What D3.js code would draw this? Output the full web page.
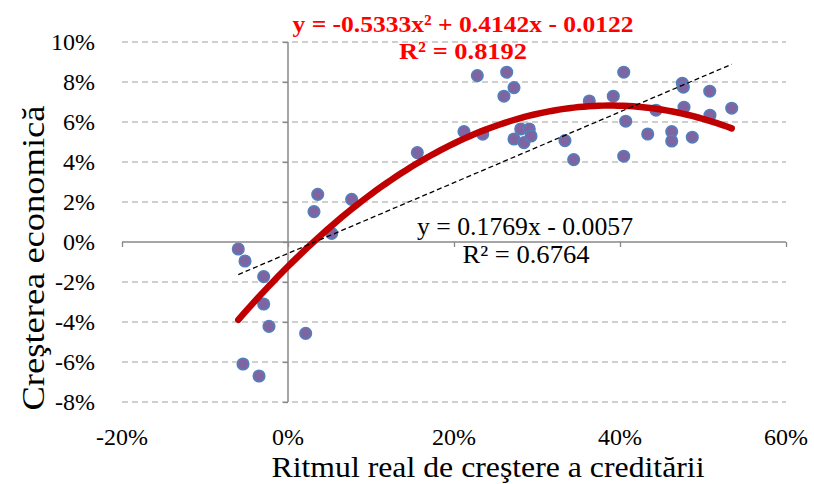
<!DOCTYPE html>
<html>
<head>
<meta charset="utf-8">
<script src="https://cdn.jsdelivr.net/npm/d3@7"></script>
<style>
  html, body { margin: 0; padding: 0; background: #fff; }
  svg { display: block; }
  text { font-family: "Liberation Serif", "Times New Roman", serif; }
</style>
</head>
<body>
<svg id="chart" width="814" height="484"></svg>
<script>
// Credit growth (x) vs economic growth (y), as fractions
const creditGrowth = [
  -0.0599, -0.0518, -0.0293, -0.0293, -0.0229, -0.0542, -0.0349, 0.0213,
  0.0313, 0.0358, 0.0526, 0.0767,
  0.1558, 0.2281, 0.2120, 0.2346, 0.2635, 0.2602, 0.2723, 0.2804, 0.2907,
  0.2723, 0.2843, 0.2928, 0.3337, 0.3442, 0.3630, 0.3919, 0.4045, 0.4069,
  0.4045, 0.4334, 0.4434, 0.4623, 0.4623, 0.4751, 0.4763, 0.4771, 0.4871,
  0.5081, 0.5084, 0.5346
];
const economicGrowth = [
  -0.0035, -0.0095, -0.0173, -0.0310, -0.0422, -0.0610, -0.0670, -0.0457,
  0.0152, 0.0238, 0.0043, 0.0213,
  0.0447, 0.0832, 0.0552, 0.0539, 0.0849, 0.0729, 0.0772, 0.0565, 0.0565,
  0.0515, 0.0497, 0.0530, 0.0507, 0.0412, 0.0705, 0.0729, 0.0849, 0.0604,
  0.0429, 0.0540, 0.0659, 0.0552, 0.0505, 0.0794, 0.0774, 0.0674, 0.0524,
  0.0754, 0.0634, 0.0669
];
const xTickValues = [-0.2, 0, 0.2, 0.4, 0.6];
const yTickValues = [-0.08, -0.06, -0.04, -0.02, 0, 0.02, 0.04, 0.06, 0.08, 0.10];
// Trendline coefficients (as shown in the chart)
const linearCoef = [0.1769, -0.0057];            // slope, intercept
const polyCoef = [-0.5333, 0.4142, -0.0122];     // a, b, c
const linearLabel = ["y = 0.1769x - 0.0057", "R² = 0.6764"];
const polyLabel = ["y = -0.5333x² + 0.4142x - 0.0122", "R² = 0.8192"];
const xTitle = "Ritmul real de creştere a creditării";
const yTitle = "Creşterea economică";

const svg = d3.select("#chart");
const x = d3.scaleLinear().domain([-0.2, 0.6]).range([122, 786]);
const y = d3.scaleLinear().domain([-0.08, 0.10]).range([402, 42]);
const pct = d => d3.format(".0%")(d).replace("−", "-");

// gridlines
svg.append("g").selectAll("line").data(yTickValues.filter(d => d !== 0)).join("line")
  .attr("x1", x(-0.2)).attr("x2", x(0.6))
  .attr("y1", d => y(d)).attr("y2", d => y(d))
  .attr("stroke", "#c0c0c0").attr("stroke-width", 1.3).attr("stroke-dasharray", "6,4");

// x axis line at y = 0
const xAxis = d3.axisBottom(x).tickValues(xTickValues).tickSize(5).tickFormat("");
const gx = svg.append("g").attr("transform", `translate(0,${y(0)})`).call(xAxis);
gx.select(".domain").attr("stroke", "#888").attr("stroke-width", 1.5).attr("d", `M${x(-0.2)},0H${x(0.6)}`);
gx.selectAll(".tick line").attr("stroke", "#888").attr("stroke-width", 1.3);

// y axis line at x = 0
const yAxis = d3.axisLeft(y).tickValues(yTickValues).tickSize(5).tickFormat("");
const gy = svg.append("g").attr("transform", `translate(${x(0)},0)`).call(yAxis);
gy.select(".domain").attr("stroke", "#888").attr("stroke-width", 1.5).attr("d", `M0,${y(0.10)}V${y(-0.08)}`);
gy.selectAll(".tick line").attr("stroke", "#888").attr("stroke-width", 1.3);

// tick labels (low position)
svg.append("g").selectAll("text").data(yTickValues).join("text")
  .attr("x", 95).attr("y", d => y(d)).attr("dy", "0.35em")
  .attr("text-anchor", "end").attr("font-size", 24).attr("fill", "#000")
  .text(pct);
svg.append("g").selectAll("text").data(xTickValues).join("text")
  .attr("x", d => x(d)).attr("y", 445)
  .attr("text-anchor", "middle").attr("font-size", 24).attr("fill", "#000")
  .text(pct);

// points
const pts = creditGrowth.map((v, i) => [v, economicGrowth[i]]);
svg.append("g").selectAll("circle").data(pts).join("circle")
  .attr("cx", d => x(d[0])).attr("cy", d => y(d[1])).attr("r", 5.8)
  .attr("fill", "#8064a2").attr("stroke", "#4f81bd").attr("stroke-width", 1.5);

// trendlines
const xMin = d3.min(creditGrowth), xMax = d3.max(creditGrowth);
const xs = d3.range(0, 101).map(i => xMin + (xMax - xMin) * i / 100);
const line = d3.line().x(d => x(d[0])).y(d => y(d[1]));
svg.append("path")
  .attr("d", line(xs.map(v => [v, polyCoef[0] * v * v + polyCoef[1] * v + polyCoef[2]])))
  .attr("fill", "none").attr("stroke", "#c00000").attr("stroke-width", 6.5).attr("stroke-linecap", "round");
svg.append("path")
  .attr("d", line([xMin, xMax].map(v => [v, linearCoef[0] * v + linearCoef[1]])))
  .attr("fill", "none").attr("stroke", "#000").attr("stroke-width", 1.3).attr("stroke-dasharray", "5,3");

// equation labels
svg.append("text").attr("x", 463).attr("y", 32).attr("text-anchor", "middle")
  .attr("font-size", 24).attr("font-weight", "bold").attr("fill", "#ff0000")
  .attr("textLength", 341).attr("lengthAdjust", "spacingAndGlyphs").text(polyLabel[0]);
svg.append("text").attr("x", 463).attr("y", 59).attr("text-anchor", "middle")
  .attr("font-size", 24).attr("font-weight", "bold").attr("fill", "#ff0000")
  .attr("textLength", 128).attr("lengthAdjust", "spacingAndGlyphs").text(polyLabel[1]);
svg.append("text").attr("x", 525).attr("y", 235).attr("text-anchor", "middle")
  .attr("font-size", 25).attr("fill", "#000")
  .attr("textLength", 216).attr("lengthAdjust", "spacingAndGlyphs").text(linearLabel[0]);
svg.append("text").attr("x", 526).attr("y", 263).attr("text-anchor", "middle")
  .attr("font-size", 25).attr("fill", "#000")
  .attr("textLength", 127).attr("lengthAdjust", "spacingAndGlyphs").text(linearLabel[1]);

// axis titles
svg.append("text").attr("x", 488).attr("y", 477).attr("text-anchor", "middle")
  .attr("font-size", 30).attr("fill", "#000")
  .attr("textLength", 433).attr("lengthAdjust", "spacingAndGlyphs").text(xTitle);
svg.append("text").attr("transform", "translate(44,258) rotate(-90)").attr("text-anchor", "middle")
  .attr("font-size", 31).attr("fill", "#000")
  .attr("textLength", 305).attr("lengthAdjust", "spacingAndGlyphs").text(yTitle);
</script>
</body>
</html>
